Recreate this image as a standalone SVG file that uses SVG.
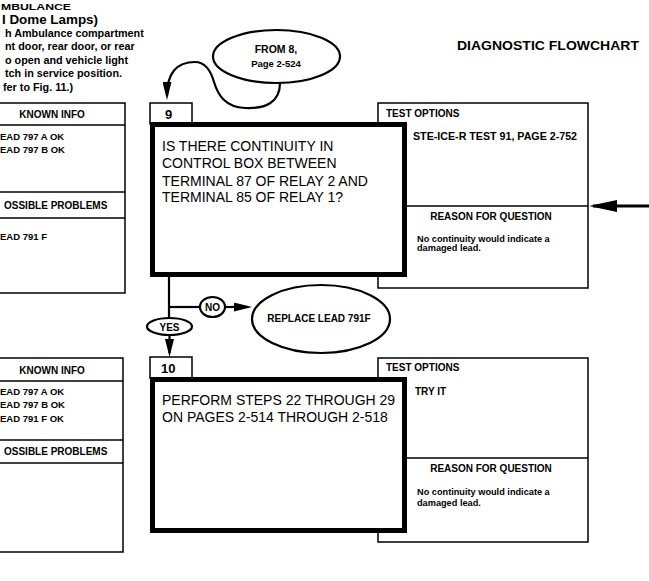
<svg xmlns="http://www.w3.org/2000/svg" width="649" height="581" viewBox="0 0 649 581">
<style>
text{font-family:"Liberation Sans",Arial,sans-serif;fill:#000}
.b{font-weight:bold}
.big{font-size:14px}
.lab{font-size:13px;font-weight:bold}
.hd{font-size:10px;font-weight:bold}
.sm{font-size:9.5px;font-weight:bold}
.tiny{font-size:9.2px;font-weight:bold}
.thin{fill:#fff;stroke:#000;stroke-width:1.5}
.thick{fill:#fff;stroke:#000;stroke-width:5}
.ln{fill:none;stroke:#000;stroke-width:1.5}
.conn{fill:none;stroke:#000;stroke-width:2.2}
</style>
<defs>
<marker id="ah" viewBox="0 0 18 9" refX="14" refY="4.5" markerWidth="18" markerHeight="9" markerUnits="userSpaceOnUse" orient="auto"><path d="M0,0 L18,4.5 L0,9 z" fill="#000"/></marker>
<marker id="ahb" viewBox="0 0 28 12" refX="24" refY="6" markerWidth="28" markerHeight="12" markerUnits="userSpaceOnUse" orient="auto"><path d="M0,0 L28,6 L0,12 z" fill="#000"/></marker>
</defs>
<rect width="649" height="581" fill="#fff"/>

<g id="intro">
<text class="b" x="1" y="9.8" font-size="9.8" textLength="70" lengthAdjust="spacingAndGlyphs">MBULANCE</text>
<text class="b" x="2" y="23.5" font-size="12.8" textLength="96" lengthAdjust="spacingAndGlyphs">l Dome Lamps)</text>
<text class="b" x="5" y="36.5" font-size="10.8">h Ambulance compartment</text>
<text class="b" x="5" y="50" font-size="10.8">nt door, rear door, or rear</text>
<text class="b" x="5" y="63.5" font-size="10.8">o open and vehicle light</text>
<text class="b" x="5" y="77" font-size="10.8">tch in service position.</text>
<text class="b" x="3" y="90.5" font-size="10.8">fer to Fig. 11.)</text>
</g>

<g id="title">
<text class="b" x="457" y="50" font-size="12.5" textLength="182" lengthAdjust="spacingAndGlyphs">DIAGNOSTIC FLOWCHART</text>
</g>

<g id="info9">
<rect class="thin" x="-5" y="103" width="130" height="190"/>
<line class="ln" x1="-5" y1="125" x2="125" y2="125"/>
<line class="ln" x1="-5" y1="192" x2="125" y2="192"/>
<line class="ln" x1="-5" y1="218" x2="125" y2="218"/>
<text class="hd" x="52" y="118" text-anchor="middle">KNOWN INFO</text>
<text class="sm" x="0" y="140">EAD 797 A OK</text>
<text class="sm" x="0" y="153">EAD 797 B OK</text>
<text class="hd" x="4" y="209">OSSIBLE PROBLEMS</text>
<text class="sm" x="0" y="240">EAD 791 F</text>
</g>

<g id="info10">
<rect class="thin" x="-5" y="358" width="128" height="194"/>
<line class="ln" x1="-5" y1="381" x2="123" y2="381"/>
<line class="ln" x1="-5" y1="440" x2="123" y2="440"/>
<line class="ln" x1="-5" y1="463" x2="123" y2="463"/>
<text class="hd" x="52" y="374" text-anchor="middle">KNOWN INFO</text>
<text class="sm" x="0" y="395">EAD 797 A OK</text>
<text class="sm" x="0" y="408">EAD 797 B OK</text>
<text class="sm" x="0" y="422">EAD 791 F OK</text>
<text class="hd" x="4" y="455">OSSIBLE PROBLEMS</text>
</g>

<g id="from8">
<ellipse class="conn" cx="276.5" cy="56.5" rx="63.5" ry="26.5" fill="#fff"/>
<text class="b" x="276" y="53" font-size="10.5" text-anchor="middle">FROM 8,</text>
<text class="b" x="276" y="67" font-size="9.5" text-anchor="middle">Page 2-524</text>
</g>

<g id="opts9">
<rect class="thin" x="378" y="103" width="210" height="185"/>
<line class="ln" x1="405" y1="206" x2="588" y2="206"/>
<text class="hd" x="386" y="117">TEST OPTIONS</text>
<text class="hd" x="413" y="140" textLength="164" lengthAdjust="spacingAndGlyphs">STE-ICE-R TEST 91, PAGE 2-752</text>
<text class="hd" x="491" y="220" text-anchor="middle">REASON FOR QUESTION</text>
<text class="tiny" x="417" y="241.5">No continuity would indicate a</text>
<text class="tiny" x="417" y="251">damaged lead.</text>
</g>

<g id="step9">
<rect class="thin" x="150" y="103" width="42" height="21"/>
<text class="lab" x="165" y="119">9</text>
<rect class="thick" x="152.5" y="124.5" width="252" height="150"/>
<text class="big" x="162" y="151">IS THERE CONTINUITY IN</text>
<text class="big" x="162" y="168">CONTROL BOX BETWEEN</text>
<text class="big" x="162" y="185.5">TERMINAL 87 OF RELAY 2 AND</text>
<text class="big" x="162" y="202">TERMINAL 85 OF RELAY 1?</text>
</g>

<g id="opts10">
<rect class="thin" x="378" y="358" width="210" height="184"/>
<line class="ln" x1="405" y1="458" x2="588" y2="458"/>
<text class="hd" x="386" y="371">TEST OPTIONS</text>
<text class="hd" x="415" y="395">TRY IT</text>
<text class="hd" x="491" y="472" text-anchor="middle">REASON FOR QUESTION</text>
<text class="tiny" x="417" y="495">No continuity would indicate a</text>
<text class="tiny" x="417" y="506">damaged lead.</text>
</g>

<g id="step10">
<rect class="thin" x="150" y="357" width="42" height="21"/>
<text class="lab" x="161" y="373">10</text>
<rect class="thick" x="152.5" y="379.5" width="252" height="151"/>
<text class="big" x="162" y="405">PERFORM STEPS 22 THROUGH 29</text>
<text class="big" x="162" y="422">ON PAGES 2-514 THROUGH 2-518</text>
</g>

<g id="replace">
<ellipse class="conn" cx="321" cy="319" rx="69" ry="34" fill="#fff"/>
<text class="hd" x="319" y="322" text-anchor="middle">REPLACE LEAD 791F</text>
</g>

<g id="connectors">
<path class="conn" d="M280 83 C280 102 266 109 245 108 C225 107 218 95 214 82 C210 68 204 62 195 62 C178 62 167 72 167 96" marker-end="url(#ah)"/>
<line class="conn" x1="169" y1="277" x2="169" y2="318"/>
<line class="conn" x1="169" y1="307" x2="200" y2="307"/>
<line class="conn" x1="225" y1="307" x2="248" y2="307" marker-end="url(#ah)"/>
<line class="conn" x1="169.5" y1="335" x2="169.5" y2="353" marker-end="url(#ah)"/>
<line x1="649" y1="206" x2="593" y2="206" stroke="#000" stroke-width="3" marker-end="url(#ahb)"/>
<ellipse class="conn" cx="212.5" cy="307" rx="12.5" ry="10" fill="#fff"/>
<text class="hd" x="212.5" y="311" text-anchor="middle" font-size="9.5">NO</text>
<ellipse class="conn" cx="169.5" cy="326.5" rx="22.5" ry="8.5" fill="#fff"/>
<text class="hd" x="169.5" y="330.5" text-anchor="middle" font-size="9.5">YES</text>
</g>
</svg>
